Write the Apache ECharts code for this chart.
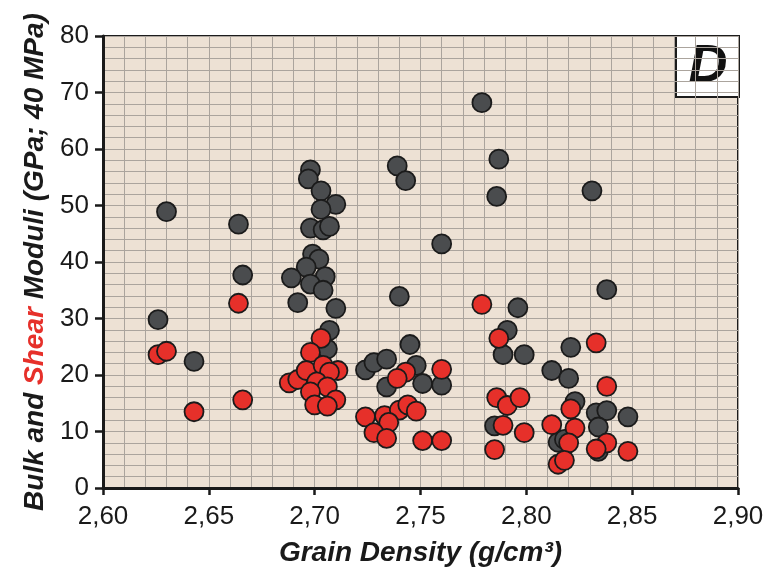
<!DOCTYPE html>
<html>
<head>
<meta charset="utf-8">
<script src="https://cdn.jsdelivr.net/npm/echarts@6/dist/echarts.min.js"></script>
<style>
  html, body { margin: 0; padding: 0; background: #ffffff; }
  #chart { width: 783px; height: 572px; }
</style>
</head>
<body>
<div id="chart"></div>
<script>
// Grain density (g/cm3) and bulk modulus (GPa) pairs
const bulkDensity = [
  2.626, 2.630, 2.643, 2.664, 2.666,
  2.698, 2.697, 2.703, 2.710, 2.703, 2.698, 2.704, 2.707, 2.699, 2.702,
  2.696, 2.689, 2.705, 2.698, 2.704, 2.692, 2.710, 2.707, 2.706,
  2.740, 2.739, 2.743, 2.760, 2.745, 2.724, 2.728, 2.734, 2.748, 2.734, 2.751, 2.760,
  2.779, 2.787, 2.786, 2.791, 2.789, 2.799, 2.796, 2.785,
  2.821, 2.812, 2.820, 2.823, 2.833, 2.838, 2.848, 2.834, 2.815, 2.818, 2.834,
  2.831, 2.838
];
const bulkModulus = [
  29.8, 48.9, 22.4, 46.7, 37.7,
  56.3, 54.7, 52.6, 50.2, 49.3, 46.0, 45.7, 46.3, 41.4, 40.5,
  39.1, 37.2, 37.4, 36.1, 35.0, 32.8, 31.8, 27.9, 24.6,
  33.9, 57.0, 54.4, 43.2, 25.4, 20.9, 22.2, 22.8, 21.7, 17.9, 18.5, 18.2,
  68.2, 58.2, 51.6, 27.9, 23.6, 23.6, 31.9, 11.0,
  24.9, 20.8, 19.4, 15.3, 13.3, 13.7, 12.6, 10.8, 8.1, 8.6, 6.5,
  52.6, 35.1
];

// Grain density (g/cm3) and shear modulus (GPa) pairs
const shearDensity = [
  2.626, 2.630, 2.643, 2.666, 2.664,
  2.703, 2.698, 2.688, 2.692, 2.696, 2.704, 2.711, 2.707, 2.701, 2.706,
  2.698, 2.710, 2.700, 2.706,
  2.760, 2.743, 2.739, 2.724, 2.733, 2.740, 2.744, 2.748, 2.735, 2.728, 2.734, 2.751, 2.760,
  2.779, 2.787, 2.786, 2.791, 2.797, 2.789, 2.799, 2.785,
  2.833, 2.838, 2.821, 2.812, 2.823, 2.820, 2.838, 2.833, 2.848, 2.815, 2.818
];
const shearModulus = [
  23.6, 24.2, 13.5, 15.6, 32.7,
  26.5, 24.0, 18.6, 19.2, 20.8, 21.7, 20.8, 20.5, 18.8, 17.9,
  17.0, 15.6, 14.7, 14.5,
  21.0, 20.5, 19.4, 12.6, 12.8, 13.8, 14.7, 13.6, 11.6, 9.8, 8.8, 8.4, 8.4,
  32.5, 26.5, 16.0, 14.6, 16.0, 11.1, 9.8, 6.8,
  25.7, 18.0, 14.0, 11.2, 10.6, 8.0, 8.0, 6.9, 6.5, 4.2, 4.9
];

// Axis ticks
const xTicks = [2.60, 2.65, 2.70, 2.75, 2.80, 2.85, 2.90];
const yTicks = [0, 10, 20, 30, 40, 50, 60, 70, 80];

const pairs = (xs, ys) => xs.map((x, i) => [x, ys[i]]);

const gridLine = { color: '#aba49d', width: 1 };
const font = '"Liberation Sans", Arial, sans-serif';
const titleStyle = { fontFamily: font, fontSize: 28, fontWeight: 'bold', fontStyle: 'italic' };

const chart = echarts.init(document.getElementById('chart'), null, { renderer: 'canvas' });

chart.setOption({
  animation: false,
  grid: {
    left: 103, right: 45, top: 36, bottom: 80,
    show: true,
    backgroundColor: '#ede1d4',
    borderColor: '#1c1c1c',
    borderWidth: 2
  },
  xAxis: {
    type: 'value',
    min: xTicks[0],
    max: xTicks[xTicks.length - 1],
    interval: 0.05,
    name: 'Grain Density (g/cm³)',
    nameLocation: 'middle',
    nameGap: 51,
    nameTextStyle: Object.assign({ color: '#1a1a1a' }, titleStyle),
    axisLine: { show: true, lineStyle: { color: '#1a1a1a', width: 3 } },
    axisTick: { show: true, length: 7, lineStyle: { color: '#1a1a1a', width: 2.5 } },
    axisLabel: {
      fontFamily: font, fontSize: 26, color: '#1a1a1a', margin: 16,
      formatter: v => v.toFixed(2).replace('.', ',')
    },
    splitLine: { show: true, lineStyle: gridLine },
    minorTick: { show: false, splitNumber: 5 },
    minorSplitLine: { show: true, lineStyle: gridLine }
  },
  yAxis: {
    type: 'value',
    min: yTicks[0],
    max: yTicks[yTicks.length - 1],
    interval: 10,
    name: '{b|Bulk and }{r|Shear}{b| Moduli (GPa; 40 MPa)}',
    nameLocation: 'middle',
    nameGap: 52,
    nameRotate: 90,
    nameTextStyle: {
      rich: {
        b: Object.assign({ color: '#1a1a1a' }, titleStyle),
        r: Object.assign({ color: '#e6302a' }, titleStyle)
      }
    },
    axisLine: { show: true, lineStyle: { color: '#1a1a1a', width: 3 } },
    axisTick: { show: true, length: 8, lineStyle: { color: '#1a1a1a', width: 2.5 } },
    axisLabel: { fontFamily: font, fontSize: 26, color: '#1a1a1a', margin: 14 },
    splitLine: { show: true, lineStyle: gridLine },
    minorTick: { show: false, splitNumber: 5 },
    minorSplitLine: { show: true, lineStyle: gridLine }
  },
  series: [
    {
      name: 'Bulk',
      type: 'scatter',
      data: pairs(bulkDensity, bulkModulus),
      symbol: 'circle',
      symbolSize: 19,
      itemStyle: { color: '#4a4c4e', borderColor: '#1b1b1b', borderWidth: 1.8, opacity: 1 },
      z: 3
    },
    {
      name: 'Shear',
      type: 'scatter',
      data: pairs(shearDensity, shearModulus),
      symbol: 'circle',
      symbolSize: 19,
      itemStyle: { color: '#e6302a', borderColor: '#1b1b1b', borderWidth: 1.8, opacity: 1 },
      z: 4
    }
  ],
  graphic: [
    {
      type: 'group',
      left: 675,
      top: 35,
      z: 100,
      children: [
        {
          type: 'rect',
          shape: { x: 0, y: 0, width: 63, height: 61 },
          style: { fill: '#ffffff', stroke: '#1c1c1c', lineWidth: 2 }
        },
        {
          type: 'text',
          x: 32, y: 31,
          style: {
            text: 'D',
            fontFamily: font, fontSize: 54, fontWeight: 'bold', fontStyle: 'italic',
            fill: '#111111', textAlign: 'center', textVerticalAlign: 'middle'
          }
        }
      ]
    }
  ]
});
</script>
</body>
</html>
